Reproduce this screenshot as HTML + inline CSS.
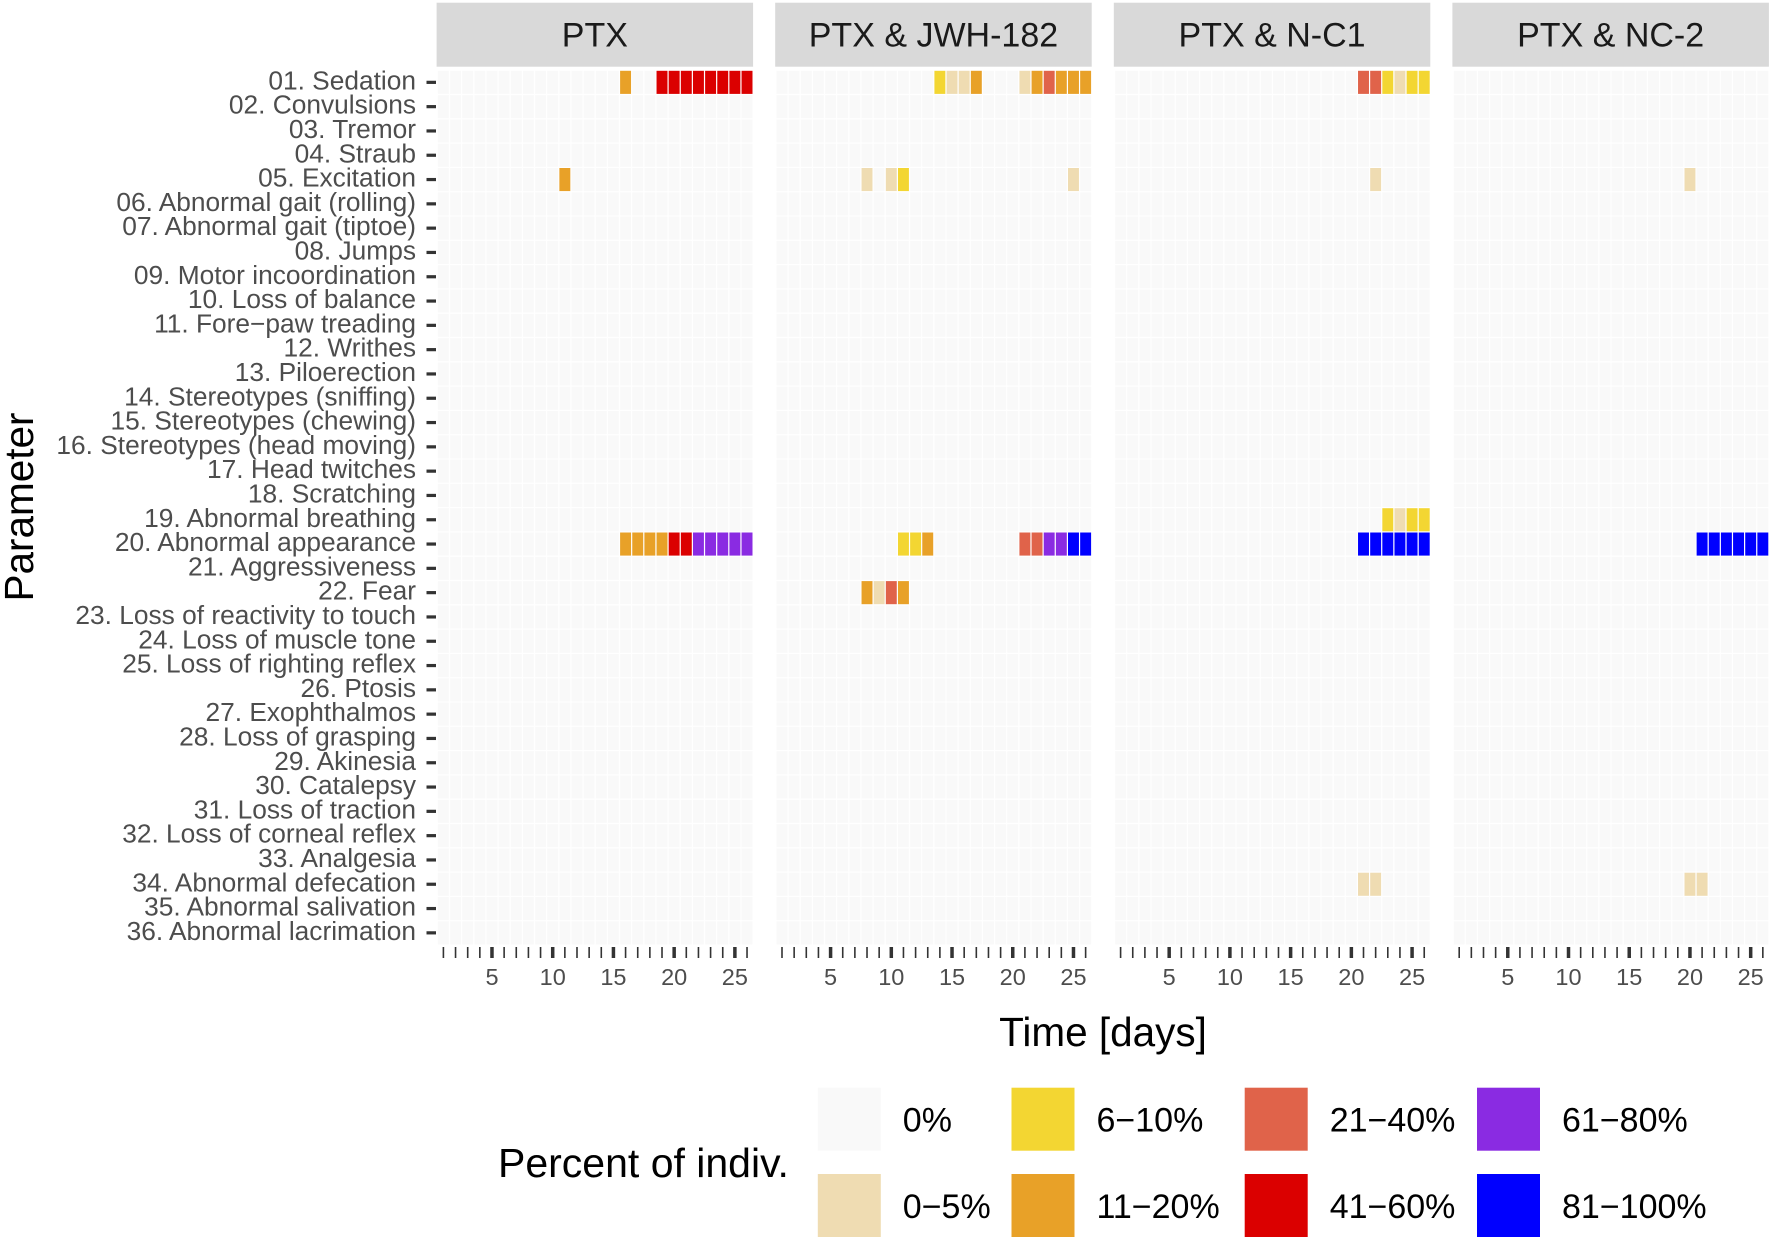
<!DOCTYPE html>
<html><head><meta charset="utf-8"><style>
html,body{margin:0;padding:0;background:#fff;}
svg{display:block;font-family:"Liberation Sans",sans-serif;}
</style></head><body>
<svg id="chart" width="1772" height="1242" viewBox="0 0 1772 1242" xmlns="http://www.w3.org/2000/svg"></svg>
<script>
const params = ["01. Sedation","02. Convulsions","03. Tremor","04. Straub","05. Excitation","06. Abnormal gait (rolling)","07. Abnormal gait (tiptoe)","08. Jumps","09. Motor incoordination","10. Loss of balance","11. Fore\u2212paw treading","12. Writhes","13. Piloerection","14. Stereotypes (sniffing)","15. Stereotypes (chewing)","16. Stereotypes (head moving)","17. Head twitches","18. Scratching","19. Abnormal breathing","20. Abnormal appearance","21. Aggressiveness","22. Fear","23. Loss of reactivity to touch","24. Loss of muscle tone","25. Loss of righting reflex","26. Ptosis","27. Exophthalmos","28. Loss of grasping","29. Akinesia","30. Catalepsy","31. Loss of traction","32. Loss of corneal reflex","33. Analgesia","34. Abnormal defecation","35. Abnormal salivation","36. Abnormal lacrimation"];
const panels = ["PTX","PTX & JWH-182","PTX & N-C1","PTX & NC-2"];
const levels = ["0%","0\u22125%","6\u221210%","11\u221220%","21\u221240%","41\u221260%","61\u221280%","81\u2212100%"];
const levelColors = ["#f9f9f9","#efdcb2","#f3d632","#e8a128","#e0634a","#db0000","#8a2be2","#0000ff"];
const xTicks = [5,10,15,20,25];
const days = 26;
// cells: [parameter row (1-based), day, level index]
const ptxCells = [[1,16,3],[1,19,5],[1,20,5],[1,21,5],[1,22,5],[1,23,5],[1,24,5],[1,25,5],[1,26,5],
 [5,11,3],
 [20,16,3],[20,17,3],[20,18,3],[20,19,3],[20,20,5],[20,21,5],[20,22,6],[20,23,6],[20,24,6],[20,25,6],[20,26,6]];
const jwhCells = [[1,14,2],[1,15,1],[1,16,1],[1,17,3],[1,21,1],[1,22,3],[1,23,4],[1,24,3],[1,25,3],[1,26,3],
 [5,8,1],[5,10,1],[5,11,2],[5,25,1],
 [20,11,2],[20,12,2],[20,13,3],[20,21,4],[20,22,4],[20,23,6],[20,24,6],[20,25,7],[20,26,7],
 [22,8,3],[22,9,1],[22,10,4],[22,11,3]];
const nc1Cells = [[1,21,4],[1,22,4],[1,23,2],[1,24,1],[1,25,2],[1,26,2],
 [5,22,1],
 [19,23,2],[19,24,1],[19,25,2],[19,26,2],
 [20,21,7],[20,22,7],[20,23,7],[20,24,7],[20,25,7],[20,26,7],
 [34,21,1],[34,22,1]];
const nc2Cells = [[5,20,1],
 [20,21,7],[20,22,7],[20,23,7],[20,24,7],[20,25,7],[20,26,7],
 [34,20,1],[34,21,1]];
const panelCells = [ptxCells,jwhCells,nc1Cells,nc2Cells];

const NS="http://www.w3.org/2000/svg";
const svg=document.getElementById('chart');
function mk(tag,attrs,parent){const e=document.createElementNS(NS,tag);for(const k in attrs)e.setAttribute(k,attrs[k]);(parent||svg).appendChild(e);return e;}
const P0=436.6, PSTEP=338.6, PW=316.5, XMIN=0.44, XMAX=26.5;
const YTOP=70.2, ROWH=24.3, PBOT=YTOP+36*ROWH;
function xs(p,d){return P0+p*PSTEP+(d-XMIN)/(XMAX-XMIN)*PW;}
function ys(r){return YTOP+(r-0.5)*ROWH;}

panels.forEach((name,p)=>{
  const g=mk('g',{});
  
  
  const strip=mk('rect',{x:P0+p*PSTEP,y:2.7,width:PW,height:64,fill:'#d9d9d9'},g);
  
  
  const st=mk('text',{x:P0+p*PSTEP+PW/2,y:46.5,'text-anchor':'middle','font-size':34,fill:'#1a1a1a'},g);
  st.textContent=name;
  
  
  const lookup={};
  panelCells[p].forEach(c=>{lookup[c[0]+'_'+c[1]]=c[2];});
  const cw=(xs(p,2)-xs(p,1));
  for(let r=1;r<=36;r++){
    for(let d=1;d<=days;d++){
      const lv=lookup[r+'_'+d]||0;
      const t=mk('rect',{x:xs(p,d)-cw/2+0.6,y:ys(r)-ROWH/2+0.6,width:cw-1.2,height:ROWH-1.2,fill:levelColors[lv]},g);
      
      
    }
  }
  for(let d=1;d<=days;d++){
    const major=xTicks.includes(d);
    const tk=mk('line',{x1:xs(p,d),x2:xs(p,d),y1:PBOT+2,y2:PBOT+13,stroke:'#333','stroke-width':major?3.5:1.6},g);
    
    
  }
  xTicks.forEach(v=>{
    const tl=mk('text',{x:xs(p,v),y:985,'text-anchor':'middle','font-size':23.5,fill:'#4d4d4d'},g);
    tl.textContent=v;
    
    
  });
});

params.forEach((lab,i)=>{
  const y=ys(i+1);
  const t=mk('text',{x:416,y:y+7,'text-anchor':'end','font-size':26.3,fill:'#4d4d4d'});
  t.textContent=lab;
  
  
  const tk=mk('line',{x1:426.5,x2:436,y1:y,y2:y,stroke:'#333','stroke-width':3.2});
  
  
});

const xt=mk('text',{x:1103,y:1046,'text-anchor':'middle','font-size':40.5,fill:'#000'});
xt.textContent='Time [days]';


const yt=mk('text',{x:0,y:0,'text-anchor':'middle','font-size':40.5,fill:'#000',transform:'translate(33,507) rotate(-90)'});
yt.textContent='Parameter';



const lt=mk('text',{x:498,y:1177,'font-size':41,fill:'#000'});
lt.textContent='Percent of indiv.';


const keyX=[817.8,1011.5,1244.7,1477];
const keyY=[1087.7,1174];
levels.forEach((lab,i)=>{
  const col=Math.floor(i/2), row=i%2;
  const g=mk('g',{});
  
  
  mk('rect',{x:keyX[col],y:keyY[row],width:63,height:63,fill:levelColors[i]},g);
  const t=mk('text',{x:keyX[col]+85,y:keyY[row]+44,'font-size':34,fill:'#000'},g);
  t.textContent=lab;
});
</script>
</body></html>
